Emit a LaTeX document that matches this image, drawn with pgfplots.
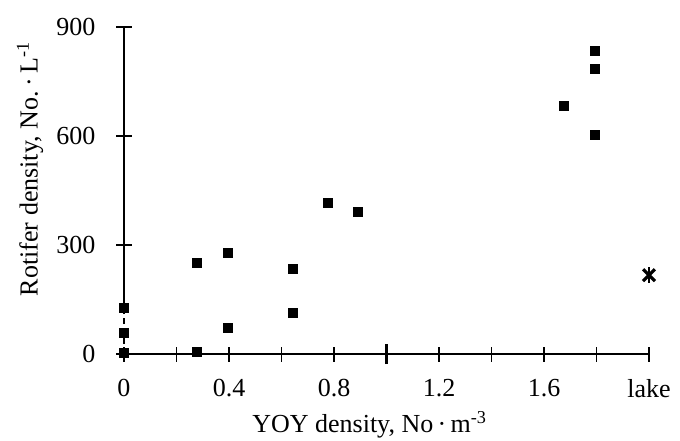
\documentclass[border=0pt]{standalone}
\usepackage{pgfplots}
\pgfplotsset{compat=1.18}
\usepackage{fontspec}
\setmainfont{Liberation Serif}
\begin{document}
\begin{tikzpicture}
\path[use as bounding box] (-62pt,-43pt) rectangle (278pt,177pt);
\begin{axis}[
  scale only axis,
  width=262.5pt, height=163.5pt,
  xmin=0, xmax=2.0, ymin=0, ymax=900,
  clip=false,
  axis lines*=left,
  y axis line style={draw=none},
  x axis line style={line width=1pt},
  tick align=center,
  major tick length=7.5pt,
  tick style={black, line width=0.6pt},
  xtick={0,0.2,0.4,0.6,0.8,1.0,1.2,1.4,1.6,1.8,2.0},
  xticklabels={0,,0.4,,0.8,,1.2,,1.6,,lake},
  ytick={0,300,600,900},
  /pgf/number format/assume math mode=true,
  ticklabel style={font=\fontsize{13}{15}\selectfont},
  xticklabel style={yshift=-5.5pt},
  yticklabel style={xshift=-7pt},
  xlabel={YOY density, No\,·\,m\textsuperscript{-3}},
  ylabel={Rotifer density, No.\,·\,L\textsuperscript{-1}},
  label style={font=\fontsize{13}{15}\selectfont},
  xlabel style={at={(axis description cs:0.468,0)}, anchor=center, yshift=-35.5pt},
  ylabel style={at={(axis description cs:0,0.566)}, anchor=center, yshift=47pt},
]
\draw[line width=1pt] (axis cs:0,130) -- (axis cs:0,900);
\draw[line width=0.8pt, dash pattern=on 3pt off 2pt] (axis cs:0,0) -- (axis cs:0,130);
\draw[line width=1.1pt] (axis cs:1.0,-28) -- (axis cs:1.0,28);
\addplot[only marks, mark=square*, mark size=2.25pt, black] coordinates {
  (0,126) (0,57) (0,2)
  (0.279,252) (0.279,6)
  (0.395,277) (0.395,73)
  (0.645,234) (0.645,114)
  (0.776,416) (0.890,391)
  (1.674,683) (1.792,833) (1.792,784) (1.792,604)
};
\addplot[only marks, mark=x, mark size=4.2pt, black, line width=1.6pt] coordinates {
  (2.0,217)
};
\addplot[only marks, mark=|, mark size=4pt, black, line width=1.4pt] coordinates {
  (2.0,217)
};
\end{axis}
\end{tikzpicture}
\end{document}
